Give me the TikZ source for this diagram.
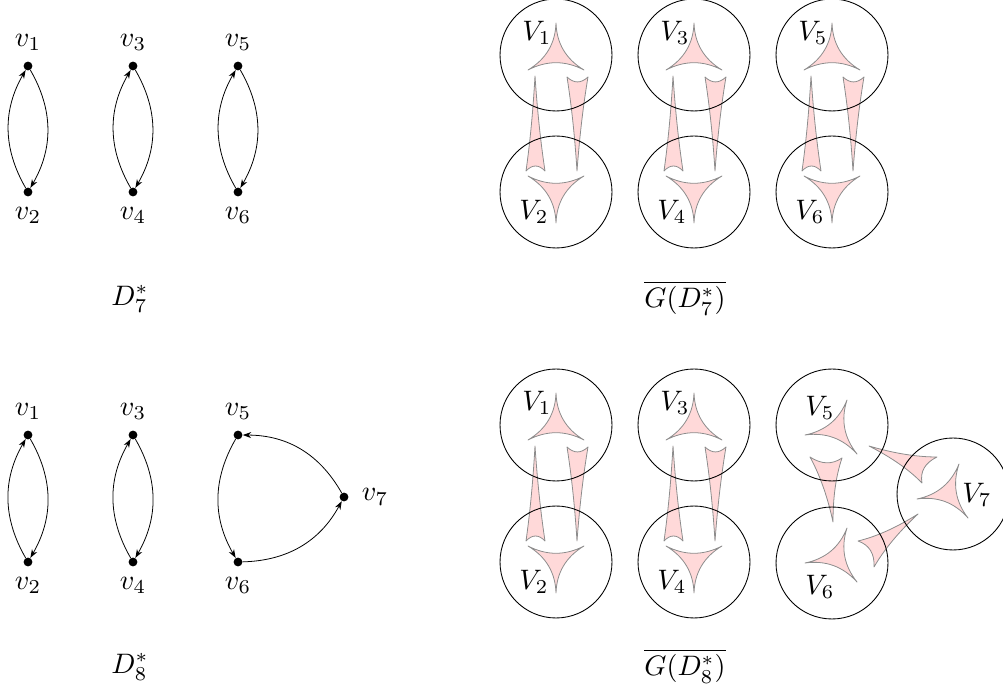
\documentclass[tikz,border=0pt]{standalone}
\usetikzlibrary{calc,arrows.meta}
\tikzset{
  dot/.style={circle,fill=black,inner sep=0pt,minimum size=5pt},
  arc/.style={-{Stealth[length=4.8pt,width=3.4pt]},line width=0.45pt},
  vset/.style={circle,draw=black,line width=0.5pt,minimum size=63.6pt,inner sep=0pt},
  hyper/.style={fill=red!15,draw=black!45,line width=0.45pt,line join=round},
  txt/.style={scale=1.6},
  every label/.style={scale=1.6,inner sep=1pt},
  lbl/.style={label distance=2.5pt},
}
\newcommand\hedge[4]{%
  \coordinate (hA) at (#1);
  \coordinate (hB) at (#2);
  \coordinate (hC) at (#3);
  \coordinate (hG) at ($0.33333*(hA)+0.33333*(hB)+0.33334*(hC)$);
  \coordinate (mAB) at ($(hA)!0.5!(hB)$);
  \coordinate (mBC) at ($(hB)!0.5!(hC)$);
  \coordinate (mCA) at ($(hC)!0.5!(hA)$);
  \path[hyper] (hA)
     .. controls ($(hA)!0.3333!(hB) + #4*(hG) - #4*(mAB)$) and ($(hA)!0.6667!(hB) + #4*(hG) - #4*(mAB)$) .. (hB)
     .. controls ($(hB)!0.3333!(hC) + #4*(hG) - #4*(mBC)$) and ($(hB)!0.6667!(hC) + #4*(hG) - #4*(mBC)$) .. (hC)
     .. controls ($(hC)!0.3333!(hA) + #4*(hG) - #4*(mCA)$) and ($(hC)!0.6667!(hA) + #4*(hG) - #4*(mCA)$) .. cycle;
}
\newcommand\colpair{%
  \hedge{0,-32}{-28,15}{28,15}{0.62}
  \hedge{-28,121}{28,121}{0,168}{0.62}
  \hedge{-21,21}{-30,116}{-11,116}{0.21}
  \hedge{11,22}{32,22}{21,116}{0.21}
}
\begin{document}
\begin{tikzpicture}[x=0.568pt,y=-0.568pt]
\path[use as bounding box] (0,0) rectangle (1003,694);

% ---------- D7* ----------
\node[dot,label={[lbl]above:$v_1$}] (a1) at (28,66) {};
\node[dot,label={[lbl]below:$v_2$}] (a2) at (28,192) {};
\node[dot,label={[lbl]above:$v_3$}] (a3) at (133,66) {};
\node[dot,label={[lbl]below:$v_4$}] (a4) at (133,192) {};
\node[dot,label={[lbl]above:$v_5$}] (a5) at (238,66) {};
\node[dot,label={[lbl]below:$v_6$}] (a6) at (238,192) {};
\draw[arc] (a1) to[bend left] (a2);
\draw[arc] (a2) to[bend left] (a1);
\draw[arc] (a3) to[bend left] (a4);
\draw[arc] (a4) to[bend left] (a3);
\draw[arc] (a5) to[bend left] (a6);
\draw[arc] (a6) to[bend left] (a5);
\node[txt] (t7) at (130,299) {$D_7^*$};

% ---------- D8* ----------
\node[dot,label={[lbl]above:$v_1$}] (b1) at (28,435) {};
\node[dot,label={[lbl]below:$v_2$}] (b2) at (28,562) {};
\node[dot,label={[lbl]above:$v_3$}] (b3) at (133,435) {};
\node[dot,label={[lbl]below:$v_4$}] (b4) at (133,562) {};
\node[dot,label={[lbl]above:$v_5$}] (b5) at (238,435) {};
\node[dot,label={[lbl]below:$v_6$}] (b6) at (238,562) {};
\node[dot,label={[label distance=3.5pt]right:$v_7$}] (b7) at (344,497) {};
\draw[arc] (b1) to[bend left] (b2);
\draw[arc] (b2) to[bend left] (b1);
\draw[arc] (b3) to[bend left] (b4);
\draw[arc] (b4) to[bend left] (b3);
\draw[arc] (b5) to[bend right] (b6);
\draw[arc] (b6) to[bend right] (b7);
\draw[arc] (b7) to[bend right] (b5);
\node[txt] (t8) at (130,667) {$D_8^*$};

% ---------- complement of G(D7*) ----------
\begin{scope}[shift={(556,55)}]\colpair\end{scope}
\begin{scope}[shift={(694,55)}]\colpair\end{scope}
\begin{scope}[shift={(832,55)}]\colpair\end{scope}
\node[vset] (A1) at (556,55) {};
\node[vset] (A2) at (556,192) {};
\node[vset] (A3) at (694,55) {};
\node[vset] (A4) at (694,192) {};
\node[vset] (A5) at (832,55) {};
\node[vset] (A6) at (832,192) {};
\node[txt] (lA1) at (537,33) {$V_1$};
\node[txt] (lA2) at (534,212) {$V_2$};
\node[txt] (lA3) at (675,33) {$V_3$};
\node[txt] (lA4) at (672,212) {$V_4$};
\node[txt] (lA5) at (813,33) {$V_5$};
\node[txt] (lA6) at (810,212) {$V_6$};
\node[txt] (g7) at (685,298) {$\overline{G(D_7^*)}$};

% ---------- complement of G(D8*) ----------
\begin{scope}[shift={(556,425)}]\colpair\end{scope}
\begin{scope}[shift={(694,425)}]\colpair\end{scope}
\hedge{805,435}{847,400}{857,454}{0.62}
\hedge{805,563}{847,528}{857,582}{0.62}
\hedge{917,499}{959,464}{968,518}{0.62}
\hedge{810,457}{842,458}{833,522}{0.33}
\hedge{869,446}{937,457}{922,483}{0.35}
\hedge{918,514}{858,541}{874,567}{0.35}
\node[vset] (B1) at (556,425) {};
\node[vset] (B2) at (556,562) {};
\node[vset] (B3) at (694,425) {};
\node[vset] (B4) at (694,562) {};
\node[vset] (B5) at (832,425) {};
\node[vset] (B6) at (832,563) {};
\node[vset] (B7) at (953,494) {};
\node[txt] (lB1) at (537,403) {$V_1$};
\node[txt] (lB2) at (534,582) {$V_2$};
\node[txt] (lB3) at (675,403) {$V_3$};
\node[txt] (lB4) at (672,582) {$V_4$};
\node[txt] (lB5) at (820,408) {$V_5$};
\node[txt] (lB6) at (820,587) {$V_6$};
\node[txt] (lB7) at (977,495) {$V_7$};
\node[txt] (g8) at (685,666) {$\overline{G(D_8^*)}$};
\end{tikzpicture}
\end{document}
